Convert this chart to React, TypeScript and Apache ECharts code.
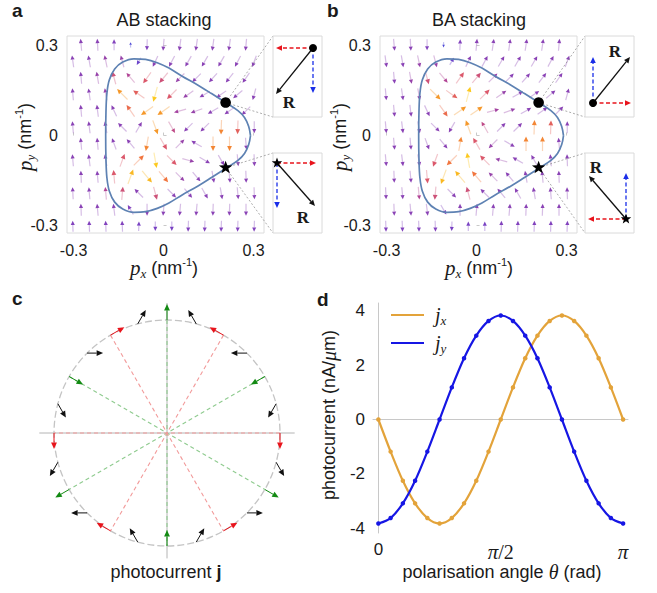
import { useEffect, useRef } from 'react';
import * as echarts from 'echarts';

const SANS = '"Liberation Sans", Arial, Helvetica, sans-serif';
const SERIF = '"Liberation Serif", "DejaVu Serif", serif';
const INK = '#1a1a1a';

// ---------------- Panels a / b : quiver field ----------------
// rows from top to bottom (p_y), even rows use COLS_EVEN, odd rows COLS_ODD (staggered grid)
const ROW_PY = [0.3025, 0.2475, 0.1925, 0.1375, 0.0825, 0.0275, -0.0275, -0.0825, -0.1375, -0.1925, -0.2475, -0.3025];
const COLS_EVEN = [-0.275, -0.22, -0.165, -0.11, -0.055, 0, 0.055, 0.11, 0.165, 0.22, 0.275];
const COLS_ODD = [-0.3025, -0.2475, -0.1925, -0.1375, -0.0825, -0.0275, 0.0275, 0.0825, 0.1375, 0.1925, 0.2475, 0.3025];

// arrow direction (degrees, counter-clockwise from +p_x), AB stacking
const AB_ANGLE = [
  [95, 93, 90, 90, 268, 265, 262, 262, 262, 262, 265],
  [98, 100, 102, 105, 240, 245, 242, 240, 240, 240, 242, 250],
  [95, 100, 105, 130, 235, 230, 225, 225, 228, 232, 235],
  [95, 98, 100, 135, 145, 255, 225, 215, 210, 215, 220, 255],
  [95, 97, 115, 125, 215, 215, 195, 200, 210, 215, 225],
  [95, 97, 100, 135, 60, 290, 300, 225, 225, 268, 268, 270],
  [95, 95, 110, 130, 260, 300, 45, 150, 270, 270, 275],
  [95, 97, 100, 70, 45, 280, 315, 345, 330, 300, 275, 272],
  [92, 95, 95, 70, 310, 310, 315, 310, 280, 275, 272],
  [93, 95, 95, 85, 135, 285, 315, 310, 300, 280, 275, 272],
  [92, 95, 97, 120, 270, 265, 265, 265, 268, 268, 270],
  [92, 92, 92, 92, 88, 270, 270, 268, 268, 268, 268, 268],
];
// arrow direction, BA stacking (reversed arrows)
const BA_ANGLE = [
  [275, 273, 270, 270, 88, 85, 82, 82, 82, 82, 85],
  [278, 280, 282, 285, 60, 65, 62, 60, 60, 60, 62, 70],
  [275, 280, 285, 310, 55, 50, 45, 45, 48, 52, 55],
  [275, 278, 280, 315, 325, 75, 45, 35, 30, 35, 40, 75],
  [275, 277, 295, 305, 35, 35, 15, 20, 30, 35, 45],
  [275, 277, 280, 315, 240, 110, 120, 45, 45, 88, 88, 90],
  [275, 275, 290, 310, 80, 120, 225, 330, 90, 90, 95],
  [275, 277, 280, 250, 225, 100, 135, 165, 150, 120, 95, 92],
  [272, 275, 275, 250, 130, 130, 135, 130, 100, 95, 92],
  [273, 275, 275, 265, 315, 105, 135, 130, 120, 100, 95, 92],
  [272, 275, 277, 300, 90, 85, 85, 85, 88, 88, 90],
  [272, 272, 272, 272, 268, 90, 90, 88, 88, 88, 88, 88],
];
// relative magnitude (colour: purple -> red -> orange -> yellow)
const FIELD_MAG = [
  [0.3, 0.3, 0.25, 0.05, 0.25, 0.3, 0.3, 0.3, 0.3, 0.3, 0.3],
  [0.3, 0.3, 0.35, 0.35, 0.15, 0.3, 0.3, 0.3, 0.3, 0.3, 0.3, 0.3],
  [0.3, 0.35, 0.55, 0.45, 0.6, 0.55, 0.35, 0.3, 0.3, 0.3, 0.3],
  [0.3, 0.3, 0.35, 0.85, 0.65, 1.0, 0.6, 0.35, 0.3, 0.3, 0.3, 0.3],
  [0.3, 0.3, 0.3, 0.7, 0.85, 0.85, 0.4, 0.35, 0.3, 0.3, 0.3],
  [0.3, 0.3, 0.3, 0.3, 0.3, 0.85, 0.5, 0.3, 0.3, 0.8, 0.65, 0.3],
  [0.3, 0.3, 0.3, 0.3, 0.8, 0.6, 0.35, 0.3, 0.8, 0.8, 0.3],
  [0.3, 0.3, 0.3, 0.6, 0.75, 1.0, 0.6, 0.35, 0.3, 0.3, 0.3, 0.3],
  [0.3, 0.3, 0.6, 0.95, 0.95, 0.75, 0.35, 0.3, 0.3, 0.3, 0.3],
  [0.3, 0.3, 0.45, 0.55, 0.3, 0.55, 0.3, 0.3, 0.3, 0.3, 0.3, 0.3],
  [0.3, 0.3, 0.3, 0.25, 0.3, 0.3, 0.3, 0.3, 0.3, 0.3, 0.3],
  [0.25, 0.25, 0.25, 0.25, 0.2, 0.2, 0.2, 0.25, 0.25, 0.25, 0.25, 0.25],
];

// trigonally warped Fermi contour
const CONTOUR_PX = [0.29, 0.284, 0.27, 0.248, 0.207, 0.16, 0.115, 0.062, 0.018, -0.021, -0.06, -0.099, -0.136, -0.163, -0.181, -0.189, -0.192, -0.193,
  -0.192, -0.189, -0.181, -0.163, -0.136, -0.099, -0.06, -0.021, 0.018, 0.062, 0.115, 0.16, 0.207, 0.248, 0.27, 0.284, 0.29];
const CONTOUR_PY = [0, 0.03, 0.06, 0.083, 0.11, 0.14, 0.168, 0.198, 0.225, 0.243, 0.254, 0.256, 0.245, 0.222, 0.185, 0.14, 0.08, 0,
  -0.08, -0.14, -0.185, -0.222, -0.245, -0.256, -0.254, -0.243, -0.225, -0.198, -0.168, -0.14, -0.11, -0.083, -0.06, -0.03, 0];

// markers on the contour: [px, py, kind] kind 0 = dot, 1 = star
const MARKERS = [[0.207, 0.11, 0], [0.207, -0.107, 1]];
const P_TICKS = [-0.3, 0, 0.3];

// ---------------- Panel c ----------------
const C_POS_DEG = [0, 15, 30, 45, 60, 75, 90, 105, 120, 135, 150, 165, 180, 195, 210, 225, 240, 255, 270, 285, 300, 315, 330, 345];
const C_DIR_DEG = [270, 240, 210, 180, 150, 120, 90, 60, 30, 0, 330, 300, 270, 240, 210, 180, 150, 120, 90, 60, 30, 0, 330, 300];
const C_KIND = [1, 0, 2, 0, 1, 0, 2, 0, 1, 0, 2, 0, 1, 0, 2, 0, 1, 0, 2, 0, 1, 0, 2, 0]; // 0 black, 1 red, 2 green
const C_GREEN_DIAM = [30, 90, 150];
const C_RED_DIAM = [0, 60, 120];

// ---------------- Panel d ----------------
const D_THETA = [0, 0.05, 0.1, 0.15, 0.2, 0.25, 0.3, 0.35, 0.4, 0.45, 0.5, 0.55, 0.6, 0.65, 0.7, 0.75, 0.8, 0.85, 0.9, 0.95, 1]; // units of pi
const D_JX = [0, -1.18, -2.25, -3.08, -3.62, -3.82, -3.62, -3.08, -2.25, -1.18, 0, 1.18, 2.25, 3.08, 3.62, 3.82, 3.62, 3.08, 2.25, 1.18, 0];
const D_JY = [-3.82, -3.62, -3.08, -2.25, -1.18, 0, 1.18, 2.25, 3.08, 3.62, 3.82, 3.62, 3.08, 2.25, 1.18, 0, -1.18, -2.25, -3.08, -3.62, -3.82];
const D_YTICKS = [-4, -2, 0, 2, 4];
const D_XTICKS = [0, 0.5, 1];

// ---------------- helpers ----------------
const MAG_STOPS: [number, number[]][] = [
  [0.0, [47, 60, 216]], [0.2, [110, 50, 190]], [0.3, [128, 50, 175]], [0.45, [170, 52, 140]],
  [0.6, [216, 74, 94]], [0.75, [240, 105, 46]], [0.88, [245, 154, 18]], [1.0, [252, 196, 12]],
];
function magColor(m: number) {
  for (let i = 1; i < MAG_STOPS.length; i++) {
    const [t1, c1] = MAG_STOPS[i];
    const [t0, c0] = MAG_STOPS[i - 1];
    if (m <= t1) {
      const f = (m - t0) / (t1 - t0);
      const c = c0.map((v, k) => Math.round(v + (c1[k] - v) * f));
      return `rgb(${c[0]},${c[1]},${c[2]})`;
    }
  }
  return 'rgb(252,196,12)';
}

function buildField(angles: number[][]) {
  const out: number[][] = [];
  ROW_PY.forEach((py, r) => {
    const cols = r % 2 === 0 ? COLS_EVEN : COLS_ODD;
    cols.forEach((px, c) => out.push([px, py, angles[r][c], FIELD_MAG[r][c]]));
  });
  return out;
}

function quiverRender(params: any, api: any) {
  const ang = (api.value(2) * Math.PI) / 180;
  const m = api.value(3);
  const c = api.coord([api.value(0), api.value(1)]);
  const L = Math.min(12, 4 + 28 * m) + Math.max(0, m - 0.3) * 5;
  const ux = Math.cos(ang), uy = -Math.sin(ang);
  const tail = [c[0] - (ux * L) / 2, c[1] - (uy * L) / 2];
  const tip = [c[0] + (ux * L) / 2, c[1] + (uy * L) / 2];
  const hl = Math.min(m > 0.5 ? 5 : 4.2, L * 0.5), hw = hl * 0.48;
  const base = [tip[0] - ux * hl, tip[1] - uy * hl];
  const px = -uy, py = ux;
  const col = magColor(m);
  return {
    type: 'group',
    children: [
      { type: 'line', shape: { x1: tail[0], y1: tail[1], x2: base[0], y2: base[1] }, style: { stroke: col, lineWidth: 1.2, opacity: 0.32 } },
      { type: 'polygon', shape: { points: [tip, [base[0] + px * hw, base[1] + py * hw], [base[0] - px * hw, base[1] - py * hw]] }, style: { fill: col, opacity: 0.92 } },
    ],
  };
}

function starPoints(cx: number, cy: number, ro: number, ri: number) {
  const pts: number[][] = [];
  for (let i = 0; i < 10; i++) {
    const r = i % 2 === 0 ? ro : ri;
    const a = -Math.PI / 2 + (i * Math.PI) / 5;
    pts.push([cx + r * Math.cos(a), cy + r * Math.sin(a)]);
  }
  return pts;
}

function markerRender(boxes: { x: number; y: number; h: number }[]) {
  return (params: any, api: any) => {
    const p = api.coord([api.value(0), api.value(1)]);
    const kind = api.value(2);
    const b = boxes[params.dataIndex];
    const conn = { stroke: '#8a8a8a', lineWidth: 0.7, lineDash: [2, 2] };
    const marker = kind === 0
      ? { type: 'circle', shape: { cx: p[0], cy: p[1], r: 5.3 }, style: { fill: '#000' } }
      : { type: 'polygon', shape: { points: starPoints(p[0], p[1], 7, 2.9) }, style: { fill: '#000' } };
    return {
      type: 'group',
      children: [
        { type: 'line', shape: { x1: p[0], y1: p[1], x2: b.x, y2: b.y }, style: conn },
        { type: 'line', shape: { x1: p[0], y1: p[1], x2: b.x, y2: b.y + b.h }, style: conn },
        marker,
      ],
    };
  };
}

function gArrow(x1: number, y1: number, x2: number, y2: number, color: string, dash?: number[], hl = 6, hw = 2.8, lw = 1.3) {
  const dx = x2 - x1, dy = y2 - y1, L = Math.hypot(dx, dy);
  const ux = dx / L, uy = dy / L;
  const bx = x2 - ux * hl, by = y2 - uy * hl;
  const px = -uy, py = ux;
  return [
    { type: 'line', z: 50, shape: { x1, y1, x2: bx, y2: by }, style: { stroke: color, lineWidth: lw, lineDash: dash || null } },
    { type: 'polygon', z: 50, shape: { points: [[x2, y2], [bx + px * hw, by + py * hw], [bx - px * hw, by - py * hw]] }, style: { fill: color } },
  ];
}

function txt(x: number, baseline: number, text: string, opts: any = {}) {
  const fs = opts.fontSize || 18;
  return {
    type: 'text', z: 60,
    x, y: baseline - 0.33 * fs,
    rotation: opts.rotation || 0,
    style: {
      text, fontSize: fs, fontFamily: opts.fontFamily || SANS, fontWeight: opts.fontWeight || 'normal',
      fontStyle: opts.fontStyle || 'normal',
      fill: INK, align: opts.align || 'center', verticalAlign: 'middle', rich: opts.rich, lineHeight: opts.lineHeight,
    },
  };
}
function rtxt(cx: number, cy: number, text: string, rich: any, fs = 18) {
  return {
    type: 'text', z: 60, x: cx, y: cy, rotation: Math.PI / 2,
    style: { text, fontSize: fs, fontFamily: SANS, fill: INK, align: 'center', verticalAlign: 'middle', rich, lineHeight: 24 },
  };
}

const P_RICH = {
  i: { fontFamily: SERIF, fontStyle: 'italic', fontSize: 21, lineHeight: 24 },
  s: { fontFamily: SERIF, fontStyle: 'italic', fontSize: 13, lineHeight: 13, verticalAlign: 'bottom' },
  u: { fontFamily: SANS, fontSize: 11, lineHeight: 11, verticalAlign: 'top' },
};

const BOXES_A = [{ x: 273, y: 36, w: 49, h: 81 }, { x: 273, y: 153, w: 49, h: 80 }];
const BOXES_B = [{ x: 585, y: 36, w: 49, h: 81 }, { x: 585, y: 153, w: 49, h: 80 }];

function insetGraphics() {
  const red = '#e8141c', blue = '#1a2ee8', blk = '#111';
  const dash = [4, 2.5];
  const els: any[] = [];
  [...BOXES_A, ...BOXES_B].forEach((b) =>
    els.push({ type: 'rect', z: 40, shape: { x: b.x, y: b.y, width: b.w, height: b.h }, style: { fill: '#fff', stroke: '#dadada', lineWidth: 1 } })
  );
  const R = (x: number, base: number) => txt(x, base, 'R', { fontFamily: SERIF, fontWeight: 'bold', fontSize: 17 });
  // a, box 1
  els.push(...gArrow(313, 48, 276, 48, red, dash), ...gArrow(313, 48, 313, 93, blue, dash), ...gArrow(313, 48, 276, 94, blk));
  els.push({ type: 'circle', z: 55, shape: { cx: 313, cy: 48, r: 4 }, style: { fill: '#000' } }, R(289, 108));
  // a, box 2
  els.push(...gArrow(277, 163, 316, 163, red, dash), ...gArrow(277, 163, 277, 208, blue, dash), ...gArrow(277, 163, 315, 206, blk));
  els.push({ type: 'polygon', z: 55, shape: { points: starPoints(277, 163, 5.5, 2.3) }, style: { fill: '#000' } }, R(303, 223));
  // b, box 1
  els.push(...gArrow(593, 103, 631, 103, red, dash), ...gArrow(593, 103, 593, 57, blue, dash), ...gArrow(593, 103, 630, 57, blk));
  els.push({ type: 'circle', z: 55, shape: { cx: 593, cy: 103, r: 4 }, style: { fill: '#000' } }, R(615, 57));
  // b, box 2
  els.push(...gArrow(626, 219, 588, 219, red, dash), ...gArrow(626, 219, 626, 173, blue, dash), ...gArrow(626, 219, 589, 176, blk));
  els.push({ type: 'polygon', z: 55, shape: { points: starPoints(626, 219, 5.5, 2.3) }, style: { fill: '#000' } }, R(596, 173));
  return els;
}

function textGraphics() {
  const bold = { fontWeight: 'bold', align: 'left', fontSize: 19 };
  return [
    txt(12, 17, 'a', bold),
    txt(327, 17, 'b', bold),
    txt(12, 305, 'c', bold),
    txt(317, 306, 'd', bold),
    txt(164, 26, 'AB stacking'),
    txt(479, 26, 'BA stacking'),
    txt(164, 274, '{i|p}{s|x} (nm{u|-1})', { rich: P_RICH, lineHeight: 24 }),
    txt(479, 274, '{i|p}{s|x} (nm{u|-1})', { rich: P_RICH, lineHeight: 24 }),
    rtxt(25, 137, '{i|p}{s|y} (nm{u|-1})', P_RICH),
    rtxt(340, 137, '{i|p}{s|y} (nm{u|-1})', P_RICH),
    txt(166, 578, 'photocurrent {b|j}', { rich: { b: { fontWeight: 'bold', fontSize: 18, fontFamily: SANS } } }),
    txt(502, 578, 'polarisation angle {t|θ} (rad)', { rich: { t: { fontFamily: SERIF, fontStyle: 'italic', fontSize: 20 } } }),
    rtxt(329, 415, 'photocurrent (nA/{t|μ}m)', { t: { fontFamily: SERIF, fontStyle: 'italic', fontSize: 20 } }),
  ];
}

// panel c renderers
const C_COLORS = ['#111111', '#e8141c', '#138a13'];
function cFrameRender(params: any, api: any) {
  const c = api.coord([0, 0]);
  const r = api.size([1, 0])[0];
  const h1 = api.coord([-1.13, 0]), h2 = api.coord([1.13, 0]);
  const v1 = api.coord([0, 1.15]), v2 = api.coord([0, -1.11]);
  return {
    type: 'group',
    children: [
      { type: 'circle', shape: { cx: c[0], cy: c[1], r }, style: { fill: 'none', stroke: '#c4c4c4', lineWidth: 1.3, lineDash: [7, 3] } },
      { type: 'line', shape: { x1: h1[0], y1: h1[1], x2: h2[0], y2: h2[1] }, style: { stroke: '#b4b4b4', lineWidth: 1 } },
      { type: 'line', shape: { x1: v1[0], y1: v1[1], x2: v2[0], y2: v2[1] }, style: { stroke: '#b4b4b4', lineWidth: 1 } },
    ],
  };
}
function cDiamRender(params: any, api: any) {
  const a = (api.value(0) * Math.PI) / 180;
  const col = api.value(1) === 1 ? '#f29a9a' : '#8fcb8f';
  const p1 = api.coord([Math.cos(a), Math.sin(a)]);
  const p2 = api.coord([-Math.cos(a), -Math.sin(a)]);
  return { type: 'line', shape: { x1: p1[0], y1: p1[1], x2: p2[0], y2: p2[1] }, style: { stroke: col, lineWidth: 1.1, lineDash: [4, 3] } };
}
function cArrowRender(params: any, api: any) {
  const phi = (api.value(0) * Math.PI) / 180;
  const psi = (api.value(1) * Math.PI) / 180;
  const col = C_COLORS[api.value(2)];
  const s = api.coord([Math.cos(phi), Math.sin(phi)]);
  const L = 16;
  const e = [s[0] + L * Math.cos(psi), s[1] - L * Math.sin(psi)];
  return { type: 'group', children: gArrow(s[0], s[1], e[0], e[1], col, undefined, 6.5, 2.9, 1) };
}

function pAxis(gridIndex: number, isX: boolean) {
  return {
    type: 'value', gridIndex,
    min: isX ? -0.322 : -0.325, max: isX ? 0.335 : 0.332,
    axisLine: { show: false }, splitLine: { show: false },
    axisTick: { show: true, inside: true, length: 3, lineStyle: { color: '#c8c8c8' }, customValues: P_TICKS },
    axisLabel: {
      customValues: P_TICKS, fontSize: 16, fontFamily: SANS, color: INK, margin: 9,
      formatter: (v: number) => (v === 0 ? '0' : v.toFixed(1)),
    },
  };
}

function buildOption() {
  const contour = CONTOUR_PX.map((x, i) => [x, CONTOUR_PY[i]]);
  const cArrows = C_POS_DEG.map((p, i) => [p, C_DIR_DEG[i], C_KIND[i]]);
  const cDiam = [...C_GREEN_DIAM.map((a) => [a, 0]), ...C_RED_DIAM.map((a) => [a, 1])];
  const gridStyle = { show: true, borderColor: '#dcdcdc', borderWidth: 1, backgroundColor: 'transparent' };
  return {
    animation: false,
    backgroundColor: '#ffffff',
    textStyle: { fontFamily: SANS },
    grid: [
      { left: 67, top: 36, width: 197, height: 197, ...gridStyle },
      { left: 380, top: 36, width: 197, height: 197, ...gridStyle },
      { left: 40, top: 306, width: 254, height: 254 },
      { left: 373, top: 303, width: 255, height: 230 },
    ],
    xAxis: [
      pAxis(0, true), pAxis(1, true),
      { type: 'value', gridIndex: 2, min: -1.124, max: 1.124, show: false },
      {
        type: 'value', gridIndex: 3, min: -0.022, max: 1.02,
        axisLine: { show: true, lineStyle: { color: '#c8c8c8' } }, axisTick: { show: false }, splitLine: { show: false },
        axisLabel: {
          customValues: D_XTICKS, fontSize: 17, fontFamily: SANS, color: INK, margin: 8,
          formatter: (v: number) => (v === 0 ? '0' : v === 1 ? '{p|π}' : '{p|π}{m|/2}'),
          rich: {
            p: { fontFamily: SERIF, fontStyle: 'italic', fontSize: 21, color: INK },
            m: { fontFamily: SERIF, fontSize: 20, color: INK },
          },
        },
      },
    ],
    yAxis: [
      pAxis(0, false), pAxis(1, false),
      { type: 'value', gridIndex: 2, min: -1.124, max: 1.124, show: false },
      {
        type: 'value', gridIndex: 3, min: -4.17, max: 4.28,
        axisLine: { show: true, lineStyle: { color: '#c8c8c8' } }, axisTick: { show: false }, splitLine: { show: false },
        axisLabel: { customValues: D_YTICKS, fontSize: 17, fontFamily: SANS, color: INK, margin: 8 },
      },
    ],
    legend: {
      data: ['jx', 'jy'], left: 386, top: 300, orient: 'vertical', icon: 'rect', itemWidth: 33, itemHeight: 2.2, itemGap: 6,
      formatter: (n: string) => (n === 'jx' ? '{i|j}{s|x}' : '{i|j}{s|y}'),
      textStyle: {
        color: INK,
        rich: {
          i: { fontFamily: SERIF, fontStyle: 'italic', fontSize: 20, lineHeight: 24, padding: [0, 0, 0, 6] },
          s: { fontFamily: SERIF, fontStyle: 'italic', fontSize: 13, lineHeight: 13, verticalAlign: 'bottom' },
        },
      },
    },
    graphic: [...insetGraphics(), ...textGraphics()],
    series: [
      { type: 'custom', name: 'AB field', xAxisIndex: 0, yAxisIndex: 0, data: buildField(AB_ANGLE), renderItem: quiverRender, encode: { x: 0, y: 1 }, z: 2 },
      { type: 'line', name: 'AB contour', xAxisIndex: 0, yAxisIndex: 0, data: contour, smooth: 0.35, showSymbol: false, lineStyle: { color: '#5e82b3', width: 1.7 }, z: 3 },
      { type: 'custom', name: 'AB markers', xAxisIndex: 0, yAxisIndex: 0, data: MARKERS, renderItem: markerRender(BOXES_A), encode: { x: 0, y: 1 }, z: 4, clip: false },
      { type: 'custom', name: 'BA field', xAxisIndex: 1, yAxisIndex: 1, data: buildField(BA_ANGLE), renderItem: quiverRender, encode: { x: 0, y: 1 }, z: 2 },
      { type: 'line', name: 'BA contour', xAxisIndex: 1, yAxisIndex: 1, data: contour, smooth: 0.35, showSymbol: false, lineStyle: { color: '#5e82b3', width: 1.7 }, z: 3 },
      { type: 'custom', name: 'BA markers', xAxisIndex: 1, yAxisIndex: 1, data: MARKERS, renderItem: markerRender(BOXES_B), encode: { x: 0, y: 1 }, z: 4, clip: false },
      { type: 'custom', name: 'c frame', xAxisIndex: 2, yAxisIndex: 2, data: [[0, 0]], renderItem: cFrameRender, encode: { x: 0, y: 1 }, z: 2, clip: false },
      { type: 'custom', name: 'c diam', xAxisIndex: 2, yAxisIndex: 2, data: cDiam, renderItem: cDiamRender, z: 3, clip: false },
      { type: 'custom', name: 'c arrows', xAxisIndex: 2, yAxisIndex: 2, data: cArrows, renderItem: cArrowRender, z: 4, clip: false },
      {
        type: 'line', name: 'jx', xAxisIndex: 3, yAxisIndex: 3, data: D_THETA.map((t, i) => [t, D_JX[i]]), smooth: 0.3,
        symbol: 'circle', symbolSize: 4.5, itemStyle: { color: '#e3a33a' }, lineStyle: { color: '#e3a33a', width: 2.2 }, z: 3,
      },
      {
        type: 'line', name: 'jy', xAxisIndex: 3, yAxisIndex: 3, data: D_THETA.map((t, i) => [t, D_JY[i]]), smooth: 0.3,
        symbol: 'circle', symbolSize: 4.5, itemStyle: { color: '#1616e4' }, lineStyle: { color: '#1616e4', width: 2.2 }, z: 4,
      },
    ],
  };
}

export default function App() {
  const ref = useRef<HTMLDivElement>(null);
  useEffect(() => {
    const chart = echarts.init(ref.current as HTMLDivElement, null, { renderer: 'svg' });
    chart.setOption(buildOption() as any);
    return () => chart.dispose();
  }, []);
  return (
    <div
      ref={ref}
      style={{ position: 'fixed', left: 0, top: 0, width: 657, height: 593, background: '#fff' }}
    />
  );
}
